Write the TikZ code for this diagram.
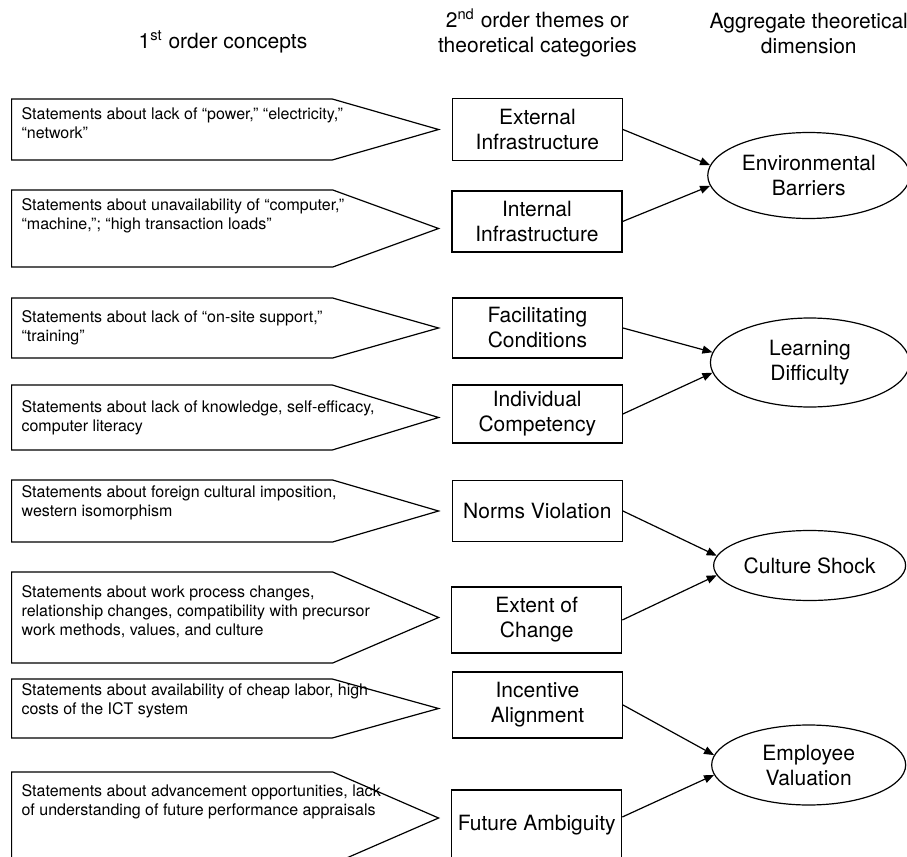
\documentclass[tikz,border=0pt]{standalone}
\usepackage{fontspec}
\setmainfont{TeX Gyre Heros}
\usetikzlibrary{positioning, calc, shapes.geometric, shapes.symbols, arrows.meta}

\begin{document}
\begin{tikzpicture}[line width=0.6pt,
    concept/.style={draw, signal, signal to=east, minimum width=213.5pt, inner sep=0pt, anchor=west},
    stmt/.style={anchor=west, align=left, inner sep=0pt, font=\fontsize{8}{9.5}\selectfont},
    theme/.style={draw, rectangle, minimum width=85pt, inner sep=0pt, align=center, font=\fontsize{10.5}{12.5}\selectfont},
    aggr/.style={draw, ellipse, inner sep=0pt, align=center, font=\fontsize{10.5}{12.5}\selectfont},
    head/.style={align=center, inner sep=0pt, font=\fontsize{10.5}{12.5}\selectfont},
    arrow/.style={-{Triangle[length=5pt, width=4pt]}}]
        \clip (0,0) rectangle (453.5pt,-428.5pt);

        % 1st order concepts
        \node[concept, minimum height=30.5pt, signal pointer angle=32] (p1) at (5.5pt,-64.75pt) {};
        \node[concept, minimum height=38.5pt, signal pointer angle=40] (p2) at (5.5pt,-114.25pt) {};
        \node[concept, minimum height=30pt, signal pointer angle=31.6] (p3) at (5.5pt,-164pt) {};
        \node[concept, minimum height=32.5pt, signal pointer angle=34] (p4) at (5.5pt,-208.75pt) {};
        \node[concept, minimum height=31pt, signal pointer angle=32.6] (p5) at (5.5pt,-255.5pt) {};
        \node[concept, minimum height=45.5pt, signal pointer angle=46.5] (p6) at (5.5pt,-308.75pt) {};
        \node[concept, minimum height=29.5pt, signal pointer angle=31] (p7) at (5.5pt,-354.25pt) {};
        \node[concept, minimum height=46pt, signal pointer angle=47] (p8) at (5.5pt,-409pt) {};

        \node[stmt] (t1) at ([xshift=5pt, yshift=3pt]p1.west) {Statements about lack of “power,” “electricity,”\\“network”};
        \node[stmt] (t2) at ([xshift=5pt, yshift=6.5pt]p2.west) {Statements about unavailability of “computer,”\\“machine,”; “high transaction loads”};
        \node[stmt] (t3) at ([xshift=5pt]p3.west) {Statements about lack of “on-site support,”\\“training”};
        \node[stmt] (t4) at ([xshift=5pt]p4.west) {Statements about lack of knowledge, self-efficacy,\\computer literacy};
        \node[stmt] (t5) at ([xshift=5pt, yshift=4pt]p5.west) {Statements about foreign cultural imposition,\\western isomorphism};
        \node[stmt] (t6) at ([xshift=5pt, yshift=3pt]p6.west) {Statements about work process changes,\\relationship changes, compatibility with precursor\\work methods, values, and culture};
        \node[stmt] (t7) at ([xshift=5pt, yshift=4pt]p7.west) {Statements about availability of cheap labor, high\\costs of the ICT system};
        \node[stmt] (t8) at ([xshift=5pt, yshift=8pt]p8.west) {Statements about advancement opportunities, lack\\of understanding of future performance appraisals};

        % 2nd order themes
        \node[theme, minimum height=31pt, right=5.5pt of p1] (b1) {External\\Infrastructure};
        \node[theme, minimum height=30.5pt, right=5.5pt of p2, yshift=3.5pt] (b2) {Internal\\Infrastructure};
        \node[theme, minimum height=30pt, right=5.5pt of p3] (b3) {Facilitating\\Conditions};
        \node[theme, minimum height=29pt, right=5.5pt of p4, yshift=1.75pt] (b4) {Individual\\Competency};
        \node[theme, minimum height=30.5pt, right=5.5pt of p5] (b5) {Norms Violation};
        \node[theme, minimum height=33pt, right=5.5pt of p6, yshift=-1.25pt] (b6) {Extent of\\Change};
        \node[theme, minimum height=33pt, right=5.5pt of p7, yshift=1.75pt] (b7) {Incentive\\Alignment};
        \node[theme, minimum height=35pt, right=5.5pt of p8, yshift=-3.5pt] (b8) {Future Ambiguity};

        % Aggregate dimensions
        \node[aggr, minimum width=101pt, minimum height=43pt] (e1) at ($(b1.east)!0.5!(b2.east)+(93pt,0)$) {Environmental\\Barriers};
        \node[aggr, minimum width=99.5pt, minimum height=44.5pt, yshift=4.25pt] (e2) at ($(b3.east)!0.5!(b4.east)+(93.5pt,0)$) {Learning\\Difficulty};
        \node[aggr, minimum width=96pt, minimum height=35pt] (e3) at ($(b5.east)!0.5!(b6.east)+(93.5pt,0)$) {Culture Shock};
        \node[aggr, minimum width=97pt, minimum height=40pt] (e4) at ($(b7.east)!0.5!(b8.east)+(93pt,0)$) {Employee\\Valuation};

        % Headers
        \node[head] (h1) at (111.5pt,-21pt) {1\textsuperscript{st} order concepts};
        \node[head, above=20pt of b1] (h2) {2\textsuperscript{nd} order themes or\\theoretical categories};
        \node[head] (h3) at (h2 -| e1) {Aggregate theoretical\\dimension};

        % Arrows
        \draw[arrow] (b1.east) -- (e1.174);
        \draw[arrow] (b2.east) -- (e1.186);
        \draw[arrow] (b3.east) -- (e2.174);
        \draw[arrow] (b4.east) -- (e2.186);
        \draw[arrow] (b5.east) -- (e3.174);
        \draw[arrow] (b6.east) -- (e3.186);
        \draw[arrow] (b7.east) -- (e4.174);
        \draw[arrow] ([yshift=4pt]b8.east) -- (e4.186);
    \end{tikzpicture}
\end{document}
